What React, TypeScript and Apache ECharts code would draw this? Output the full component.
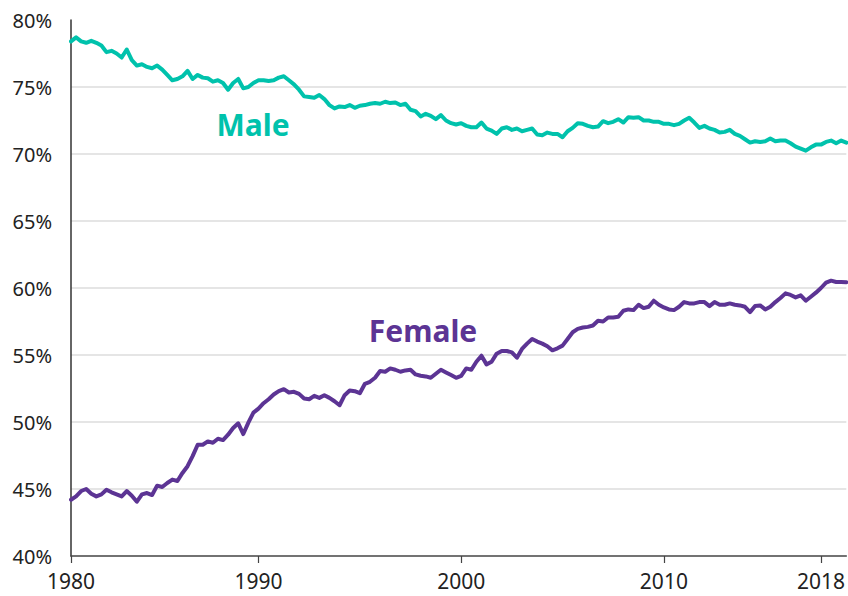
import React, { useEffect, useRef } from "react";
import * as echarts from "echarts";

// Quarterly readings, first point ~late 1980
const male = [
  78.4, 78.7, 78.4, 78.3, 78.45, 78.3, 78.1, 77.6, 77.7, 77.5,
  77.2, 77.8, 77.0, 76.6, 76.7, 76.5, 76.4, 76.6, 76.3, 75.9,
  75.5, 75.6, 75.8, 76.2, 75.6, 75.9, 75.7, 75.65, 75.4, 75.5,
  75.3, 74.8, 75.3, 75.6, 74.9, 75.0, 75.3, 75.5, 75.5, 75.45,
  75.5, 75.7, 75.8, 75.5, 75.2, 74.8, 74.3, 74.25, 74.2, 74.4,
  74.1, 73.65, 73.4, 73.55, 73.5, 73.65, 73.45, 73.6, 73.65, 73.75,
  73.8, 73.75, 73.9, 73.8, 73.85, 73.65, 73.75, 73.3, 73.2, 72.8,
  73.0, 72.85, 72.6, 72.9, 72.5, 72.3, 72.2, 72.3, 72.1, 72.0,
  72.0, 72.35, 71.9, 71.75, 71.5, 71.9, 72.0, 71.8, 71.9, 71.7,
  71.8, 71.9, 71.45, 71.4, 71.6, 71.5, 71.5, 71.25, 71.7, 71.95,
  72.3, 72.25, 72.1, 72.0, 72.05, 72.45, 72.3, 72.4, 72.6, 72.35,
  72.75, 72.7, 72.75, 72.5, 72.5, 72.4, 72.4, 72.25, 72.25, 72.15,
  72.25, 72.5, 72.7, 72.35, 71.95, 72.1, 71.9, 71.8, 71.6, 71.65,
  71.8, 71.5, 71.35, 71.1, 70.85, 70.95, 70.9, 70.95, 71.15, 70.95,
  71.0, 71.0, 70.8, 70.55, 70.4, 70.25, 70.5, 70.7, 70.7, 70.9,
  71.0, 70.8, 71.0, 70.85,
];

const female = [
  44.2, 44.45, 44.85, 45.0, 44.65, 44.45, 44.6, 44.95, 44.75, 44.6,
  44.45, 44.85, 44.5, 44.05, 44.6, 44.7, 44.55, 45.25, 45.15, 45.45,
  45.7, 45.6, 46.2, 46.7, 47.45, 48.3, 48.3, 48.55, 48.45, 48.75,
  48.65, 49.05, 49.55, 49.9, 49.1, 49.95, 50.7, 51.0, 51.4, 51.7,
  52.05, 52.3, 52.45, 52.2, 52.25, 52.1, 51.75, 51.7, 51.95, 51.8,
  52.0, 51.8, 51.55, 51.25, 52.0, 52.35, 52.3, 52.15, 52.85, 53.0,
  53.3, 53.8, 53.75, 54.0, 53.9, 53.75, 53.85, 53.9, 53.55, 53.45,
  53.4, 53.3, 53.6, 53.9, 53.7, 53.5, 53.3, 53.45, 54.0, 53.9,
  54.5, 54.95, 54.3, 54.5, 55.1, 55.3, 55.3, 55.2, 54.8, 55.45,
  55.85, 56.2, 56.0, 55.85, 55.65, 55.35, 55.5, 55.7, 56.2, 56.7,
  56.95, 57.05, 57.1, 57.2, 57.55, 57.5, 57.8, 57.8, 57.85, 58.3,
  58.4, 58.35, 58.75, 58.5, 58.6, 59.05, 58.75, 58.55, 58.4, 58.35,
  58.6, 58.95, 58.85, 58.85, 58.95, 58.95, 58.65, 58.95, 58.75, 58.75,
  58.85, 58.75, 58.7, 58.6, 58.2, 58.66, 58.7, 58.4, 58.6, 58.95,
  59.25, 59.6, 59.48, 59.3, 59.45, 59.05, 59.35, 59.65, 60.0, 60.4,
  60.55, 60.45, 60.45, 60.43,
];

const tickIndex = [0, 37, 77, 117, 148];
const tickLabels = ["1980", "1990", "2000", "2010", "2018"];

const MALE_COLOR = "#00c2ac";
const FEMALE_COLOR = "#5c3494";

export default function App() {
  const ref = useRef<HTMLDivElement>(null);

  useEffect(() => {
    document.body.style.margin = "0";
    if (!ref.current) return;
    const chart = echarts.init(ref.current, undefined, { renderer: "svg" });
    const categories = male.map((_, i) => String(i));
    const showTick = (index: number) => tickIndex.includes(index);

    chart.setOption({
      animation: false,
      backgroundColor: "#ffffff",
      grid: { left: 71, right: 0, top: 20, bottom: 40, containLabel: false },
      xAxis: {
        type: "category",
        data: categories,
        boundaryGap: false,
        axisLine: { show: true, lineStyle: { color: "#444", width: 1.5 } },
        axisTick: {
          show: true,
          interval: (index: number) => showTick(index),
          length: 7,
          lineStyle: { color: "#444", width: 1.2 },
        },
        axisLabel: {
          interval: (index: number) => showTick(index),
          formatter: (_v: string, index: number) => {
            const k = tickIndex.indexOf(index);
            return k >= 0 ? tickLabels[k] : "";
          },
          fontSize: 21,
          fontFamily: "Noto Sans",
          color: "#222",
          margin: 14,
        },
        splitLine: { show: false },
      },
      yAxis: {
        type: "value",
        min: 40,
        max: 80,
        interval: 5,
        axisLine: { show: true, lineStyle: { color: "#333", width: 1.5 } },
        axisTick: { show: false },
        axisLabel: {
          formatter: "{value}%",
          fontSize: 20,
          fontFamily: "Noto Sans",
          color: "#222",
          margin: 19,
        },
        splitLine: {
          show: true,
          showMinLine: false,
          showMaxLine: false,
          lineStyle: { color: "#dcdcdc", width: 1.5 },
        },
      },
      series: [
        {
          name: "Male",
          type: "line",
          data: male,
          symbol: "none",
          lineStyle: { color: MALE_COLOR, width: 4, join: "round", cap: "round" },
          itemStyle: { color: MALE_COLOR },
        },
        {
          name: "Female",
          type: "line",
          data: female,
          symbol: "none",
          lineStyle: { color: FEMALE_COLOR, width: 4, join: "round", cap: "round" },
          itemStyle: { color: FEMALE_COLOR },
        },
      ],
      graphic: [
        {
          type: "text",
          x: 253,
          y: 124,
          style: {
            text: "Male",
            fill: MALE_COLOR,
            font: "bold 30px 'Noto Sans'",
            align: "center",
            verticalAlign: "middle",
          },
        },
        {
          type: "text",
          x: 423,
          y: 330,
          style: {
            text: "Female",
            fill: FEMALE_COLOR,
            font: "bold 30px 'Noto Sans'",
            align: "center",
            verticalAlign: "middle",
          },
        },
      ],
    });

    return () => chart.dispose();
  }, []);

  return <div ref={ref} style={{ width: 848, height: 596 }} />;
}
